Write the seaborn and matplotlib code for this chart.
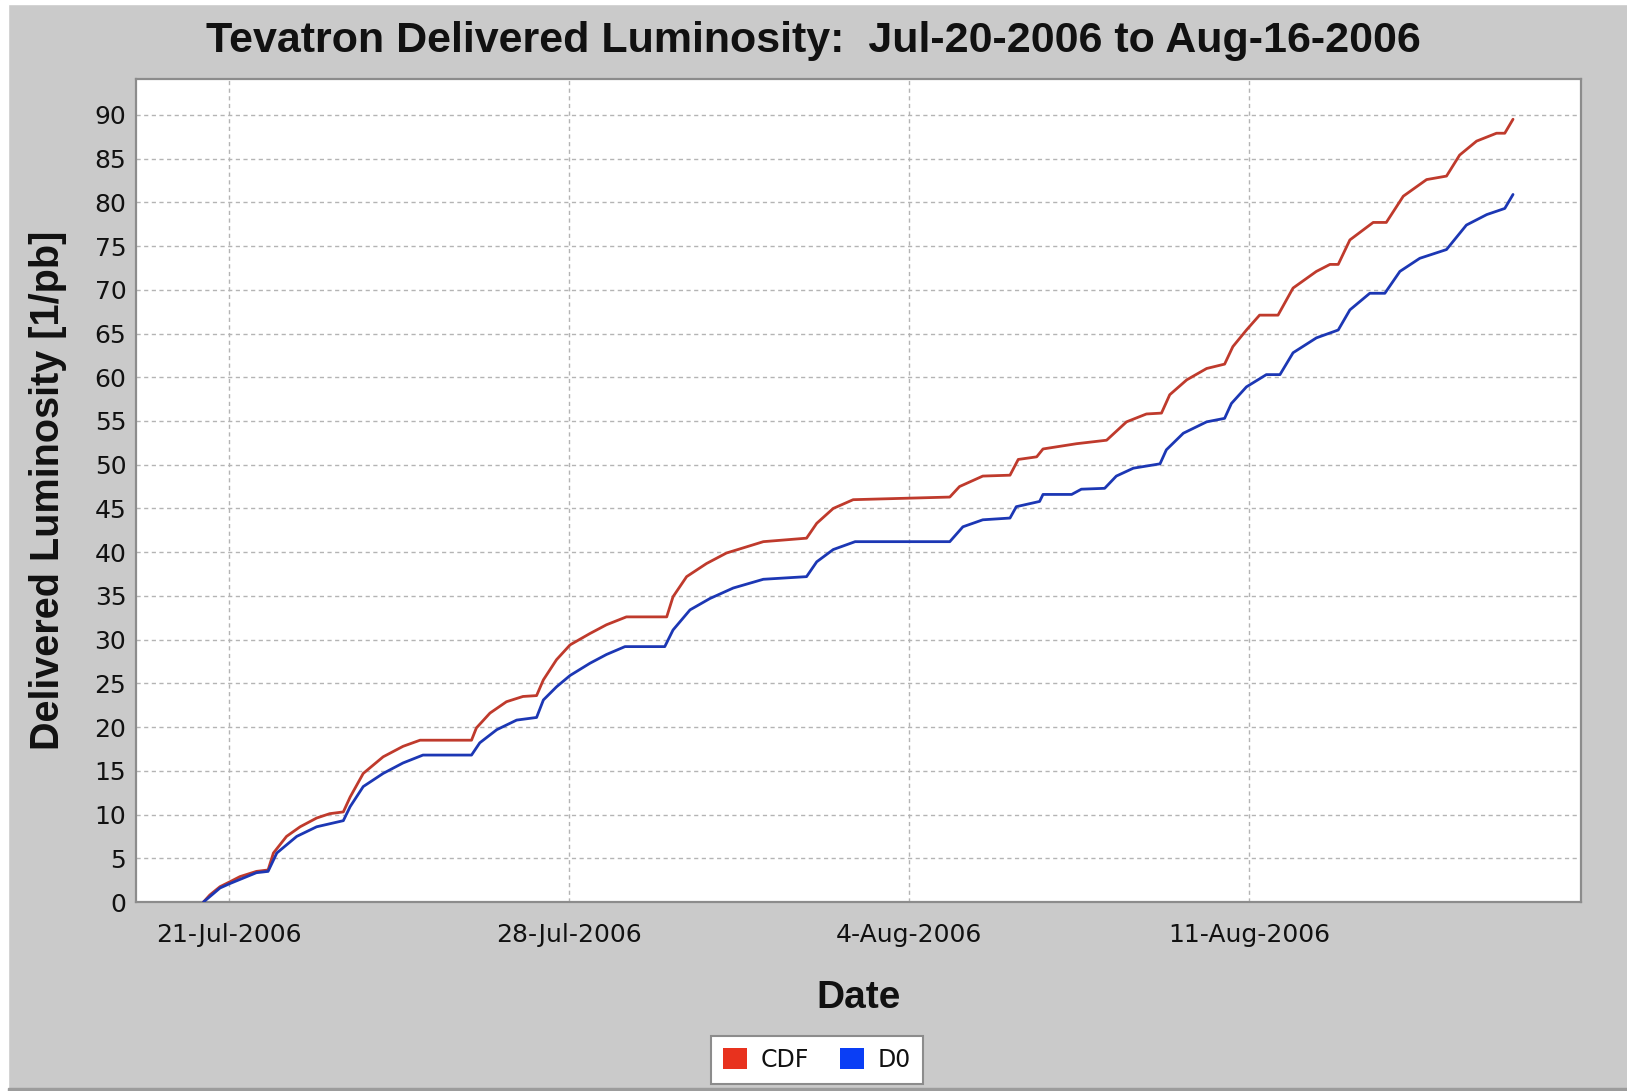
import pandas as pd
import matplotlib
matplotlib.use("Agg")
import matplotlib.pyplot as plt
from matplotlib.patches import Patch, Rectangle
import seaborn as sns

# days after 21-Jul-2006 00:00
start = pd.Timestamp("2006-07-21")

cdf_days = [-0.53, -0.40, -0.19, 0.01, 0.22, 0.56, 0.80, 0.91, 1.18, 1.46, 1.80, 2.07, 2.35,
            2.49, 2.76, 3.17, 3.58, 3.93, 4.99, 5.09, 5.37, 5.71, 6.05, 6.33, 6.47, 6.74,
            7.02, 7.43, 7.77, 8.18, 9.01, 9.14, 9.42, 9.83, 10.24, 10.65, 11.00, 11.89,
            12.10, 12.44, 12.85, 14.84, 15.04, 15.52, 16.08, 16.25, 16.63, 16.76, 17.45,
            18.07, 18.48, 18.89, 19.20, 19.37, 19.72, 20.13, 20.50, 20.67, 20.95, 21.22,
            21.60, 21.91, 22.39, 22.67, 22.84, 23.08, 23.56, 23.83, 24.18, 24.66, 25.07,
            25.34, 25.69, 26.10, 26.27, 26.44]
cdf_lumi = [0.0, 0.8, 1.75, 2.3, 2.9, 3.5, 3.66, 5.6, 7.5, 8.6, 9.6, 10.1, 10.3,
            12.0, 14.7, 16.6, 17.8, 18.5, 18.5, 19.9, 21.6, 22.9, 23.5, 23.6, 25.4, 27.7,
            29.4, 30.7, 31.7, 32.6, 32.6, 34.9, 37.2, 38.7, 39.9, 40.6, 41.2, 41.6,
            43.3, 45.0, 46.0, 46.3, 47.5, 48.7, 48.8, 50.6, 50.9, 51.8, 52.4,
            52.8, 54.9, 55.8, 55.9, 58.0, 59.7, 61.0, 61.5, 63.5, 65.4, 67.1,
            67.1, 70.2, 72.1, 72.9, 72.9, 75.7, 77.7, 77.7, 80.7, 82.6, 83.0,
            85.4, 87.0, 87.9, 87.9, 89.5]

d0_days = [-0.53, -0.19, 0.01, 0.56, 0.80, 0.98, 1.39, 1.80, 2.35, 2.49, 2.76, 3.17, 3.58,
           3.99, 4.99, 5.16, 5.51, 5.92, 6.33, 6.47, 6.74, 7.02, 7.43, 7.77, 8.15, 8.97,
           9.14, 9.49, 9.90, 10.38, 11.00, 11.89, 12.10, 12.44, 12.89, 14.84, 15.11, 15.52,
           16.08, 16.21, 16.69, 16.76, 17.35, 17.55, 18.03, 18.27, 18.62, 19.17, 19.30,
           19.65, 20.13, 20.50, 20.64, 20.95, 21.36, 21.64, 21.91, 22.39, 22.84, 23.08,
           23.49, 23.80, 24.11, 24.52, 25.07, 25.48, 25.90, 26.27, 26.44]
d0_lumi = [0.0, 1.6, 2.1, 3.35, 3.5, 5.6, 7.5, 8.6, 9.3, 10.9, 13.2, 14.7, 15.9,
           16.8, 16.8, 18.2, 19.7, 20.8, 21.1, 23.1, 24.6, 25.9, 27.3, 28.3, 29.2, 29.2,
           31.1, 33.4, 34.7, 35.9, 36.9, 37.2, 38.9, 40.3, 41.2, 41.2, 42.9, 43.7,
           43.9, 45.2, 45.8, 46.6, 46.6, 47.2, 47.3, 48.7, 49.6, 50.1, 51.7,
           53.6, 54.9, 55.3, 57.0, 58.9, 60.3, 60.3, 62.8, 64.5, 65.4, 67.7,
           69.6, 69.6, 72.1, 73.6, 74.6, 77.4, 78.6, 79.3, 80.9]

tick_dates = ["2006-07-21", "2006-07-28", "2006-08-04", "2006-08-11"]
tick_labels = ["21-Jul-2006", "28-Jul-2006", "4-Aug-2006", "11-Aug-2006"]

df = pd.concat([
    pd.DataFrame({"date": start + pd.to_timedelta(cdf_days, unit="D"), "lumi": cdf_lumi, "det": "CDF"}),
    pd.DataFrame({"date": start + pd.to_timedelta(d0_days, unit="D"), "lumi": d0_lumi, "det": "D0"}),
])

bg = "#cacaca"
ink = "#111111"
line_colors = {"CDF": "#bf3a2c", "D0": "#1c37b4"}
legend_colors = {"CDF": "#e8321e", "D0": "#0a3ef5"}

sns.set_style("white")
plt.rcParams["font.family"] = ["DejaVu Sans"]
plt.rcParams["text.color"] = ink

fig = plt.figure(figsize=(16.27, 10.91), dpi=100, facecolor=bg)
# white strip on left/top edge of the screenshot
fig.patches.append(Rectangle((0, 0), 8 / 1627, 1, transform=fig.transFigure, color="white", zorder=-1))
fig.patches.append(Rectangle((0, 1 - 4 / 1091), 1, 4 / 1091, transform=fig.transFigure, color="white", zorder=-1))
fig.patches.append(Rectangle((8 / 1627, 0), 1, 3 / 1091, transform=fig.transFigure, color="#9c9c9c", zorder=-1))

ax = fig.add_axes([136 / 1627, 1 - 902 / 1091, (1581 - 136) / 1627, (902 - 79) / 1091])
ax.set_facecolor("white")

sns.lineplot(data=df, x="date", y="lumi", hue="det", palette=line_colors,
             linewidth=2.0, legend=False, ax=ax, zorder=3)

ax.set_xlim(start - pd.Timedelta(days=1.92), start + pd.Timedelta(days=27.84))
ax.set_ylim(0, 94.1)
ax.set_yticks(range(0, 95, 5))
ax.set_xticks(pd.to_datetime(tick_dates))
ax.set_xticklabels(tick_labels)

ax.grid(True, color="#b4b4b4", linestyle=(0, (3, 2.5)), linewidth=1.0)
ax.tick_params(axis="both", length=0, labelsize=18, colors=ink)
ax.tick_params(axis="x", pad=15)
ax.tick_params(axis="y", pad=7)
for s in ax.spines.values():
    s.set_color("#8c8c8c")
    s.set_linewidth(1.6)

ax.set_xlabel("Date", fontsize=28, fontweight="bold", family="Liberation Sans", labelpad=24, color=ink)
ax.set_ylabel("Delivered Luminosity [1/pb]", fontsize=28.5, fontweight="bold",
              family="Liberation Sans", labelpad=20, color=ink)

fig.text(0.5, 1 - 41 / 1091, "Tevatron Delivered Luminosity:  Jul-20-2006 to Aug-16-2006",
         ha="center", va="center", fontsize=31, fontweight="bold", family="Liberation Sans", color=ink)

handles = [Patch(facecolor=legend_colors[k], edgecolor="none", label=k) for k in ["CDF", "D0"]]
leg = fig.legend(handles=handles, loc="center", bbox_to_anchor=(817 / 1627, 1 - 1060 / 1091),
                 ncol=2, fontsize=17, frameon=True, fancybox=False, handlelength=1.0,
                 handleheight=1.0, handletextpad=0.6, columnspacing=1.3, borderpad=0.5)
leg.get_frame().set_edgecolor("#8c8c8c")
leg.get_frame().set_linewidth(1.5)
leg.get_frame().set_facecolor("white")
leg.get_frame().set_alpha(1)

fig.savefig("out.png", dpi=100, facecolor=bg)
